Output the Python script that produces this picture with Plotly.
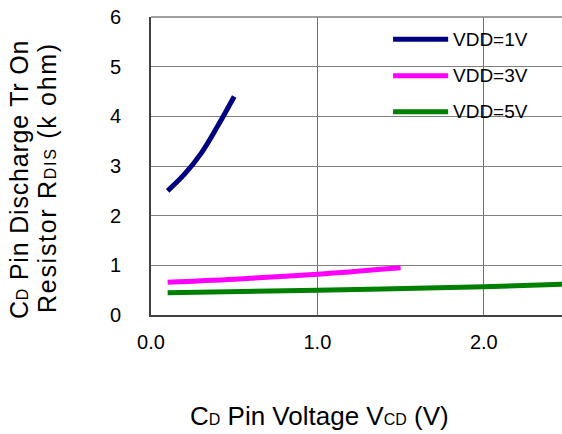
import plotly.graph_objects as go

# Data
vdd1_x = [0.1, 0.2, 0.3, 0.4, 0.5]
vdd1_y = [2.5, 2.83, 3.25, 3.8, 4.4]
vdd3_x = [0.1, 0.5, 1.0, 1.5]
vdd3_y = [0.66, 0.72, 0.82, 0.95]
vdd5_x = [0.1, 1.0, 2.0, 2.5]
vdd5_y = [0.45, 0.50, 0.57, 0.62]
series_names = ["VDD=1V", "VDD=3V", "VDD=5V"]
series_colors = ["#000080", "#FF00FF", "#008000"]
x_tick_vals = [0, 1, 2]
x_tick_text = ["0.0", "1.0", "2.0"]
y_tick_vals = [0, 1, 2, 3, 4, 5, 6]

FONT = "Liberation Sans, Arial, sans-serif"
fig = go.Figure()
for xs, ys, name, col in zip([vdd1_x, vdd3_x, vdd5_x], [vdd1_y, vdd3_y, vdd5_y], series_names, series_colors):
    fig.add_trace(go.Scatter(x=xs, y=ys, mode="lines", name=name,
                             line=dict(color=col, width=5, shape="spline"),
                             showlegend=False, hoverinfo="skip"))

# plot frame top edge
fig.add_shape(type="line", xref="paper", yref="paper", x0=0, x1=1, y0=1, y1=1,
              line=dict(color="#808080", width=1.5), layer="above")

# manual legend
leg_y = [0.925, 0.803, 0.682]
for name, col, yy in zip(series_names, series_colors, leg_y):
    fig.add_shape(type="line", xref="paper", yref="paper", x0=0.589, x1=0.723, y0=yy, y1=yy,
                  line=dict(color=col, width=5), layer="above")
    fig.add_annotation(xref="paper", yref="paper", x=0.730, y=yy, text=name, showarrow=False,
                       xanchor="left", yanchor="middle", font=dict(size=19, color="black", family=FONT))

sub = "<span style='font-size:16px'>{}</span>"
fig.add_annotation(xref="paper", yref="paper", x=-0.321, y=0.453,
                   text="<span style='letter-spacing:0.8px'>C" + sub.format("D") + " Pin Discharge Tr On</span>",
                   showarrow=False, textangle=-90, xanchor="center", yanchor="middle",
                   font=dict(size=25, color="black", family=FONT))
fig.add_annotation(xref="paper", yref="paper", x=-0.253, y=0.460,
                   text="<span style='letter-spacing:1.7px'>Resistor R" + sub.format("DIS") + " (k ohm)</span>",
                   showarrow=False, textangle=-90, xanchor="center", yanchor="middle",
                   font=dict(size=25, color="black", family=FONT))
fig.add_annotation(xref="paper", yref="paper", x=0.409, y=-0.339,
                   text="C" + sub.format("D") + " Pin Voltage V" + sub.format("CD") + " (V)",
                   showarrow=False, xanchor="center", yanchor="middle",
                   font=dict(size=26, color="black", family=FONT))

fig.update_layout(
    width=562, height=434,
    margin=dict(l=151, r=0, t=17, b=119),
    paper_bgcolor="white", plot_bgcolor="white",
    font=dict(family=FONT, size=20, color="black"),
    xaxis=dict(range=[0, 2.47], tickvals=x_tick_vals, ticktext=x_tick_text,
               showgrid=True, gridcolor="#707070", gridwidth=1,
               showline=True, linecolor="#404040", linewidth=2,
               ticks="", ticklabelstandoff=8, zeroline=False,
               tickfont=dict(size=20, family=FONT)),
    yaxis=dict(range=[0, 6], tickvals=y_tick_vals,
               showgrid=True, gridcolor="#808080", gridwidth=1,
               showline=True, linecolor="#404040", linewidth=2,
               ticks="", ticklabelstandoff=24, zeroline=False,
               tickfont=dict(size=20, family=FONT)),
)
fig.write_html("out.html", post_script="document.body.style.margin='0';",
               config={"displayModeBar": False})
